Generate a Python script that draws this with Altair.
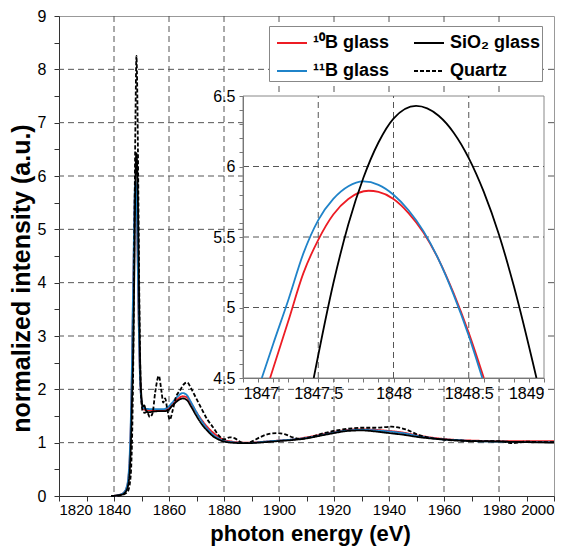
import altair as alt
import pandas as pd

# ---------------- data ----------------
SERIES = ["¹⁰B glass", "¹¹B glass", "SiO₂ glass", "Quartz"]
COLORS = ["#ed1c24", "#1f83c9", "#000000", "#000000"]
DASHES = [[1, 0], [1, 0], [1, 0], [4, 2]]
WIDTHS = [1.8, 1.8, 1.5, 1.4]

B10_X = [1839, 1841, 1842.5, 1843.5, 1844.5, 1845.2, 1845.7, 1846.1, 1846.5, 1846.8, 1847.0,
         1847.18, 1847.3, 1847.4, 1847.5, 1847.6, 1847.7, 1847.835, 1847.9, 1848.0, 1848.1,
         1848.2, 1848.3, 1848.4, 1848.5, 1848.6, 1848.7, 1848.9, 1849.2, 1849.6, 1850.0,
         1850.5, 1851, 1853, 1856, 1858, 1859.5, 1861, 1863, 1865, 1866.5, 1868, 1870, 1872,
         1874, 1876, 1878, 1880, 1883, 1888, 1895, 1900, 1905, 1910, 1915, 1920, 1925, 1930,
         1935, 1940, 1945, 1950, 1955, 1960, 1965, 1970, 1980, 1990, 2000]
B10_Y = [0.0, 0.01, 0.03, 0.06, 0.14, 0.32, 0.68, 1.30, 2.25, 3.25, 3.95,
         4.50, 4.90, 5.24, 5.48, 5.66, 5.77, 5.828, 5.82, 5.77, 5.67,
         5.53, 5.34, 5.10, 4.82, 4.50, 4.18, 3.55, 2.75, 2.08, 1.78,
         1.66, 1.62, 1.61, 1.61, 1.61, 1.63, 1.71, 1.81, 1.87, 1.85, 1.74, 1.57, 1.42,
         1.29, 1.19, 1.11, 1.05, 1.02, 1.00, 1.02, 1.04, 1.06, 1.10, 1.15, 1.20, 1.24, 1.25,
         1.24, 1.22, 1.19, 1.14, 1.10, 1.07, 1.05, 1.04, 1.03, 1.03, 1.03]

B11_X = [1839, 1841, 1842.5, 1843.5, 1844.5, 1845.2, 1845.7, 1846.1, 1846.5, 1846.8, 1847.0,
         1847.125, 1847.2, 1847.3, 1847.4, 1847.5, 1847.6, 1847.7, 1847.8, 1847.9, 1848.0,
         1848.1, 1848.2, 1848.3, 1848.4, 1848.5, 1848.59, 1848.7, 1848.9, 1849.2, 1849.6,
         1850.0, 1850.5, 1851, 1853, 1856, 1858, 1859.5, 1861, 1863, 1865, 1866.5, 1868, 1870,
         1872, 1874, 1876, 1878, 1880, 1883, 1888, 1895, 1900, 1905, 1910, 1915, 1920, 1925,
         1930, 1935, 1940, 1945, 1950, 1955, 1960, 1965, 1970, 1980, 1990, 2000]
B11_Y = [0.0, 0.01, 0.03, 0.06, 0.15, 0.35, 0.75, 1.40, 2.40, 3.45, 4.05,
         4.50, 4.74, 5.05, 5.38, 5.62, 5.77, 5.86, 5.894, 5.87, 5.80,
         5.69, 5.54, 5.34, 5.09, 4.80, 4.50, 4.15, 3.50, 2.70, 2.05,
         1.78, 1.67, 1.64, 1.63, 1.63, 1.63, 1.66, 1.74, 1.86, 1.93, 1.89, 1.76, 1.57,
         1.40, 1.26, 1.15, 1.08, 1.03, 1.01, 0.99, 1.02, 1.04, 1.06, 1.09, 1.14, 1.19, 1.23,
         1.24, 1.23, 1.21, 1.18, 1.13, 1.09, 1.06, 1.05, 1.03, 1.02, 1.01, 1.01]

SIO2_X = [1839, 1841, 1842.5, 1843.5, 1844.5, 1845.2, 1845.7, 1846.1, 1846.5, 1846.8, 1847.0,
          1847.2, 1847.35, 1847.47, 1847.6, 1847.7, 1847.8, 1847.9, 1848.0, 1848.15, 1848.3,
          1848.4, 1848.5, 1848.6, 1848.7, 1848.8, 1848.95, 1849.1, 1849.3, 1849.6, 1850.0,
          1850.5, 1851.0, 1851.5, 1852.5, 1854, 1856, 1858, 1859.5, 1861, 1863, 1865, 1866.5,
          1868, 1870, 1872, 1874, 1876, 1878, 1880, 1883, 1888, 1895, 1900, 1905, 1910, 1915,
          1920, 1925, 1930, 1935, 1940, 1945, 1950, 1955, 1960, 1965, 1970, 1980, 1990, 2000]
SIO2_Y = [0.0, 0.01, 0.02, 0.04, 0.10, 0.22, 0.45, 0.90, 1.70, 2.30, 2.75,
          3.50, 4.05, 4.50, 5.17, 5.59, 5.92, 6.17, 6.34, 6.43, 6.36,
          6.24, 6.06, 5.82, 5.52, 5.15, 4.50, 3.85, 3.10, 2.30, 1.85,
          1.68, 1.70, 1.62, 1.57, 1.58, 1.59, 1.59, 1.60, 1.68, 1.78, 1.83, 1.80,
          1.68, 1.50, 1.34, 1.22, 1.12, 1.06, 1.02, 1.00, 0.99, 1.01, 1.03, 1.05, 1.08, 1.13,
          1.18, 1.22, 1.23, 1.21, 1.18, 1.15, 1.11, 1.08, 1.06, 1.04, 1.03, 1.02, 1.01, 1.00]

QTZ_X = [1839, 1842, 1843.5, 1844.5, 1845.3, 1845.8, 1846.3, 1846.7, 1847.0, 1847.3, 1847.6,
         1847.9, 1848.15, 1848.4, 1848.7, 1849.0, 1849.3, 1849.6, 1850.0, 1850.5, 1851.2, 1852,
         1853, 1854, 1855, 1856.3, 1857.3, 1857.9, 1858.6, 1859.3, 1860.3, 1861.3, 1862.5,
         1864, 1865.5, 1866.6, 1868, 1870, 1872, 1874, 1876, 1878, 1880, 1882, 1884, 1886,
         1888, 1890, 1893, 1896, 1899.5, 1902, 1905, 1907.5, 1911, 1915, 1920, 1925, 1930,
         1935, 1941, 1946, 1951, 1956, 1961, 1966, 1970, 1975, 1980, 1985, 1990, 1995, 2000]
QTZ_Y = [0.0, 0.01, 0.03, 0.06, 0.12, 0.25, 0.60, 1.40, 2.50, 4.20, 6.00,
         7.50, 8.25, 7.80, 6.50, 4.80, 3.30, 2.30, 1.75, 1.58, 1.56, 1.58,
         1.48, 1.55, 1.95, 2.25, 1.95, 1.75, 1.83, 1.65, 1.43, 1.60, 1.85,
         1.98, 2.10, 2.13, 2.02, 1.82, 1.62, 1.43, 1.29, 1.14, 1.06, 1.10, 1.08, 1.01,
         0.99, 1.02, 1.10, 1.16, 1.18, 1.16, 1.10, 1.07, 1.10, 1.16, 1.22, 1.26, 1.28,
         1.28, 1.30, 1.25, 1.14, 1.08, 1.05, 1.04, 1.03, 1.03, 1.03, 0.99, 1.02, 1.01, 1.01]

X_TICKS = [1820, 1830, 1840, 1850, 1860, 1870, 1880, 1890, 1900, 1910, 1920,
           1930, 1940, 1950, 1960, 1970, 1980, 1990, 2000]
Y_TICKS = [0, 0.5, 1, 1.5, 2, 2.5, 3, 3.5, 4, 4.5, 5, 5.5, 6, 6.5, 7, 7.5, 8, 8.5, 9]
GRID_X = [1840, 1860, 1880, 1900, 1920, 1940, 1960, 1980]
GRID_Y = [1, 2, 3, 4, 5, 6, 7, 8]

INSET_X_TICKS = [1847.0, 1847.1, 1847.2, 1847.3, 1847.4, 1847.5, 1847.6, 1847.7, 1847.8,
                 1847.9, 1848.0, 1848.1, 1848.2, 1848.3, 1848.4, 1848.5, 1848.6, 1848.7,
                 1848.8, 1848.9, 1849.0]
INSET_Y_TICKS = [4.5, 4.6, 4.7, 4.8, 4.9, 5.0, 5.1, 5.2, 5.3, 5.4, 5.5, 5.6, 5.7, 5.8,
                 5.9, 6.0, 6.1, 6.2, 6.3, 6.4, 6.5]
INSET_GRID_X = [1847.5, 1848.0, 1848.5]
INSET_GRID_Y = [5.0, 5.5, 6.0]
INSET_X_DOMAIN = [1847, 1849]
INSET_Y_DOMAIN = [4.5, 6.5]
INSET_SERIES = ["¹⁰B glass", "¹¹B glass", "SiO₂ glass"]

rows = []
for name, xs, ys in [(SERIES[0], B10_X, B10_Y), (SERIES[1], B11_X, B11_Y),
                     (SERIES[2], SIO2_X, SIO2_Y), (SERIES[3], QTZ_X, QTZ_Y)]:
    for x, y in zip(xs, ys):
        rows.append({"series": name, "energy": x, "intensity": y})
df = pd.DataFrame(rows)

# ---------------- layout constants ----------------
W, H = 495, 480
INSET_X_RANGE = [184, 485]
INSET_Y_RANGE = [362, 80]
FONT = "Liberation Sans"
GRID_COLOR = "#555555"

main_x = alt.Scale(domain=[1820, 2000], nice=False, zero=False)
main_y = alt.Scale(domain=[0, 9], nice=False)
inset_x = alt.Scale(domain=INSET_X_DOMAIN, range=INSET_X_RANGE, nice=False, zero=False)
inset_y = alt.Scale(domain=INSET_Y_DOMAIN, range=INSET_Y_RANGE, nice=False, zero=False)

color_scale = alt.Scale(domain=SERIES, range=COLORS)
dash_scale = alt.Scale(domain=SERIES, range=DASHES)
width_scale = alt.Scale(domain=SERIES, range=WIDTHS)

main_x_axis = alt.Axis(
    values=X_TICKS, labelExpr="datum.value % 20 === 0 ? format(datum.value, 'd') : ''",
    grid=False, title="photon energy (eV)", orient="bottom", labelPadding=1,
    labelFontSize=15,
    titleFontSize=22, titleX=251, titleY=44, titleBaseline="alphabetic")
main_y_axis = alt.Axis(
    values=Y_TICKS, labelExpr="datum.value % 1 === 0 ? format(datum.value, 'd') : ''",
    grid=False, title="normalized intensity (a.u.)", orient="left", labelPadding=8,
    titleFontSize=25, titleX=-25, titleY=262, titleBaseline="bottom")

half_expr = "abs(datum.value * 2 - round(datum.value * 2)) < 0.001 ? format(datum.value, '~r') : ''"
inset_x_axis = alt.Axis(
    values=INSET_X_TICKS, labelExpr=half_expr, grid=False, title=None,
    orient="bottom", offset=-(H - INSET_Y_RANGE[0]), zindex=2, labelPadding=3,
    domainColor="#777777", tickColor="#777777", tickSize=4)
inset_y_axis = alt.Axis(
    values=INSET_Y_TICKS, labelExpr=half_expr, grid=False, title=None,
    orient="left", offset=-INSET_X_RANGE[0], zindex=2, labelPadding=4,
    domainColor="#777777", tickColor="#777777", tickSize=4)

# ---------------- main plot ----------------
grid_x = alt.Chart(pd.DataFrame({"gx": GRID_X})).mark_rule(
    color=GRID_COLOR, strokeDash=[6, 4], strokeWidth=1
).encode(x=alt.X("gx:Q", scale=main_x, axis=main_x_axis))

grid_y = alt.Chart(pd.DataFrame({"gy": GRID_Y})).mark_rule(
    color=GRID_COLOR, strokeDash=[6, 4], strokeWidth=1
).encode(y=alt.Y("gy:Q", scale=main_y, axis=main_y_axis))

legend = alt.Legend(
    orient="none", legendX=210, legendY=10, columns=2, title=None,
    fillColor="white", strokeColor="#888888", padding=1, symbolOffset=6,
    labelFont=FONT, labelFontWeight="bold", labelFontSize=18, labelColor="#000000",
    symbolType="stroke", symbolSize=900, symbolStrokeWidth=2, labelOffset=5,
    columnPadding=17, rowPadding=3,
)

main_lines = alt.Chart(df).mark_line(interpolate="monotone").encode(
    x=alt.X("energy:Q", scale=main_x, axis=main_x_axis),
    y=alt.Y("intensity:Q", scale=main_y, axis=main_y_axis),
    color=alt.Color("series:N", scale=color_scale, sort=SERIES, legend=legend),
    strokeDash=alt.StrokeDash("series:N", scale=dash_scale, sort=SERIES, legend=legend),
    strokeWidth=alt.StrokeWidth("series:N", scale=width_scale, legend=None),
    detail="series:N",
)

main = alt.layer(grid_x, grid_y, main_lines)

# ---------------- inset ----------------
one = pd.DataFrame({"a": [0]})
bg = alt.Chart(one).mark_rect(fill="white", stroke="#888888", strokeWidth=1).encode(
    x=alt.X(datum=INSET_X_DOMAIN[0], type="quantitative", scale=inset_x, axis=inset_x_axis),
    x2=alt.X2(datum=INSET_X_DOMAIN[1]),
    y=alt.Y(datum=INSET_Y_DOMAIN[0], type="quantitative", scale=inset_y, axis=inset_y_axis),
    y2=alt.Y2(datum=INSET_Y_DOMAIN[1]),
)

igrid_x = alt.Chart(pd.DataFrame({"gx": INSET_GRID_X})).mark_rule(
    color=GRID_COLOR, strokeDash=[6, 4], strokeWidth=1
).encode(
    x=alt.X("gx:Q", scale=inset_x, axis=inset_x_axis),
    y=alt.Y(datum=INSET_Y_DOMAIN[0], type="quantitative", scale=inset_y, axis=inset_y_axis),
    y2=alt.Y2(datum=INSET_Y_DOMAIN[1]),
)

igrid_y = alt.Chart(pd.DataFrame({"gy": INSET_GRID_Y})).mark_rule(
    color=GRID_COLOR, strokeDash=[6, 4], strokeWidth=1
).encode(
    y=alt.Y("gy:Q", scale=inset_y, axis=inset_y_axis),
    x=alt.X(datum=INSET_X_DOMAIN[0], type="quantitative", scale=inset_x, axis=inset_x_axis),
    x2=alt.X2(datum=INSET_X_DOMAIN[1]),
)

inset_lines = alt.Chart(df).transform_filter(
    alt.FieldOneOfPredicate(field="series", oneOf=INSET_SERIES)
).transform_filter(
    "datum.energy >= 1847 && datum.energy <= 1849 && datum.intensity >= 4.5"
).mark_line(interpolate="monotone").encode(
    x=alt.X("energy:Q", scale=inset_x, axis=inset_x_axis),
    y=alt.Y("intensity:Q", scale=inset_y, axis=inset_y_axis),
    color=alt.Color("series:N", scale=color_scale, sort=SERIES, legend=None),
    strokeWidth=alt.value(1.8),
    detail="series:N",
)

inset = alt.layer(bg, igrid_x, igrid_y, inset_lines)

chart = alt.layer(main, inset).resolve_scale(
    x="independent", y="independent"
).properties(
    width=W, height=H,
    autosize=alt.AutoSizeParams(type="none"),
    padding={"left": 59, "top": 16, "right": 18, "bottom": 50},
).configure_view(
    stroke="#999999", strokeWidth=1
).configure_axis(
    labelFont=FONT, labelFontSize=16, labelColor="#000000",
    titleFont=FONT, titleFontSize=22, titleFontWeight="bold", titleColor="#000000",
    domainColor="#333333", tickColor="#333333", tickSize=5,
)

chart.save("out.html", embed_options={"renderer": "svg", "actions": False})
